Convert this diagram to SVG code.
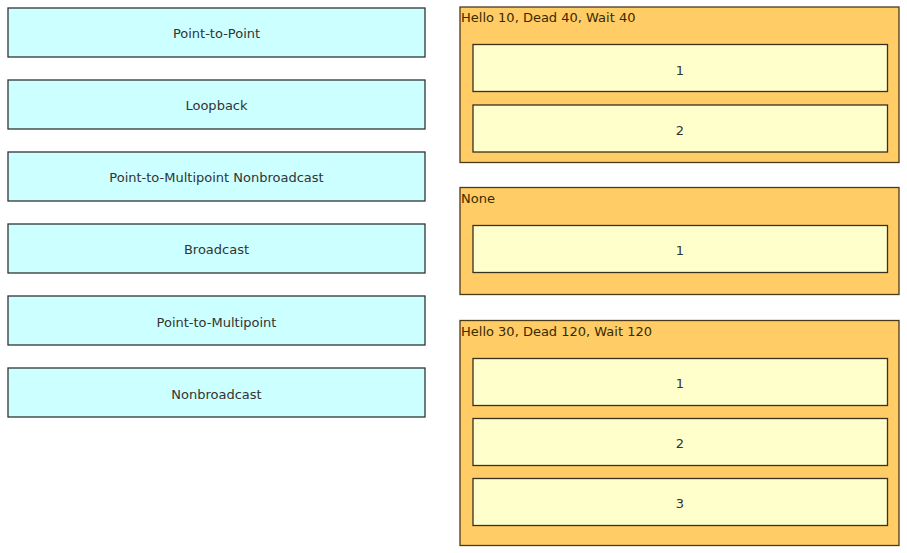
<svg xmlns="http://www.w3.org/2000/svg" width="907" height="553" viewBox="0 0 907 553">
<style>
.src rect{fill:#ccffff;stroke:#333333;stroke-width:1.3}
.grp{fill:#ffcc66;stroke:#4a3a1a;stroke-width:1.3}
.slot{fill:#ffffcc;stroke:#3a3020;stroke-width:1.3}
text{font-family:"DejaVu Sans",sans-serif;font-size:13px;fill:#333333}
.c{text-anchor:middle}
.h{fill:#3a2a00}
</style>
<rect width="907" height="553" fill="#ffffff"/>
<g id="connectors"></g>
<g id="n-ptp" class="src"><rect x="8" y="8" width="417" height="49"/><text class="c" x="216.5" y="38">Point-to-Point</text></g>
<g id="n-loopback" class="src"><rect x="8" y="80" width="417" height="49"/><text class="c" x="216.5" y="110">Loopback</text></g>
<g id="n-p2mp-nb" class="src"><rect x="8" y="152" width="417" height="49"/><text class="c" x="216.5" y="182">Point-to-Multipoint Nonbroadcast</text></g>
<g id="n-broadcast" class="src"><rect x="8" y="224" width="417" height="49"/><text class="c" x="216.5" y="254">Broadcast</text></g>
<g id="n-p2mp" class="src"><rect x="8" y="296" width="417" height="49"/><text class="c" x="216.5" y="327">Point-to-Multipoint</text></g>
<g id="n-nonbroadcast" class="src"><rect x="8" y="368" width="417" height="49"/><text class="c" x="216.5" y="399">Nonbroadcast</text></g>
<g id="g-hello10">
<rect class="grp" x="460" y="7" width="439" height="155.5"/>
<text class="h" x="461" y="22">Hello 10, Dead 40, Wait 40</text>
<rect class="slot" x="473" y="44.5" width="414.5" height="47"/><text class="c" x="680" y="75">1</text>
<rect class="slot" x="473" y="105" width="414.5" height="47"/><text class="c" x="680" y="135">2</text>
</g>
<g id="g-none">
<rect class="grp" x="460" y="187.5" width="439" height="107"/>
<text class="h" x="461" y="203">None</text>
<rect class="slot" x="473" y="225.5" width="414.5" height="47"/><text class="c" x="680" y="255">1</text>
</g>
<g id="g-hello30">
<rect class="grp" x="460" y="320.5" width="439" height="225"/>
<text class="h" x="461" y="336">Hello 30, Dead 120, Wait 120</text>
<rect class="slot" x="473" y="358.5" width="414.5" height="47"/><text class="c" x="680" y="388">1</text>
<rect class="slot" x="473" y="418.5" width="414.5" height="47"/><text class="c" x="680" y="448">2</text>
<rect class="slot" x="473" y="478.5" width="414.5" height="47"/><text class="c" x="680" y="508">3</text>
</g>
</svg>
